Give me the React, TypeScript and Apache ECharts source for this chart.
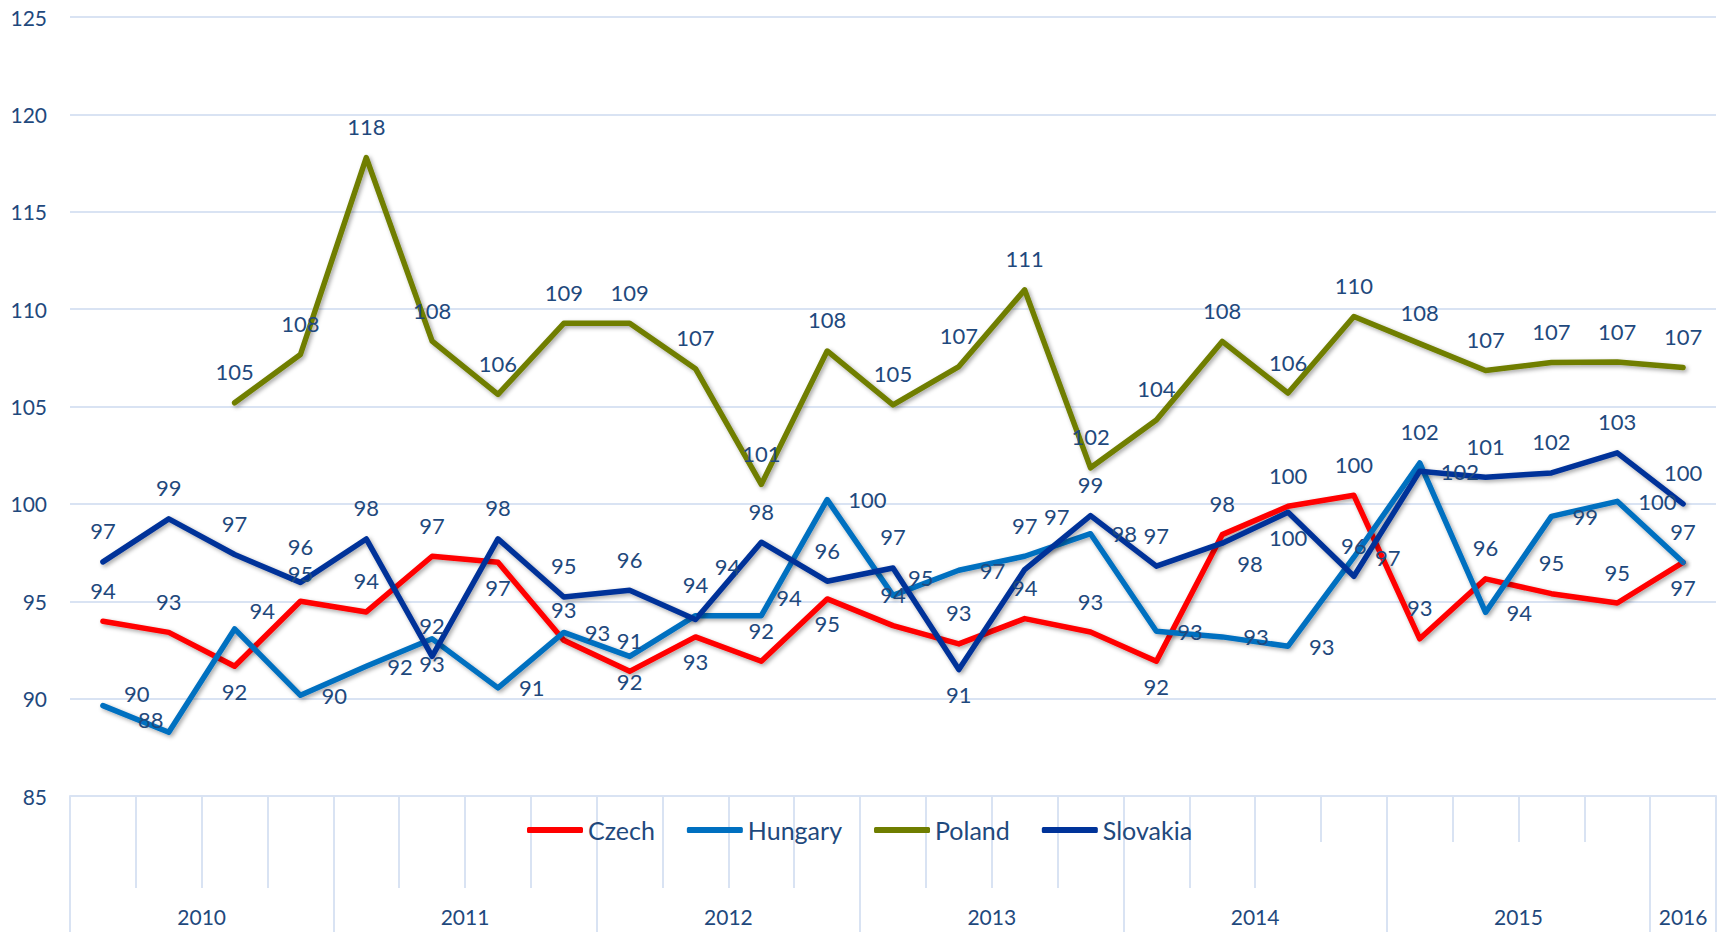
import React, { useEffect, useRef } from "react";
import * as echarts from "echarts";

// ---------- data ----------
const years = ["2010", "2011", "2012", "2013", "2014", "2015", "2016"];
const quartersPerYear = [4, 4, 4, 4, 4, 4, 1];
const seriesNames = ["Czech", "Hungary", "Poland", "Slovakia"];

const czech = [93.97, 93.4, 91.66, 95.0, 94.45, 97.31, 97.0, 93.0, 91.4, 93.17, 91.92, 95.12, 93.75, 92.81, 94.11, 93.42, 91.92, 98.42, 99.88, 100.44, 93.07, 96.15, 95.39, 94.91, 97.0];
const hungary = [89.64, 88.27, 93.58, 90.17, 91.66, 93.07, 90.55, 93.4, 92.17, 94.26, 94.26, 100.22, 95.3, 96.59, 97.31, 98.47, 93.46, 93.17, 92.69, 97.26, 102.1, 94.43, 99.36, 100.13, 97.0];
const poland = [null, null, 105.19, 107.67, 117.78, 108.36, 105.62, 109.27, 109.27, 106.94, 101.0, 107.85, 105.08, 107.05, 110.99, 101.85, 104.31, 108.34, 105.69, 109.62, 108.23, 106.85, 107.26, 107.28, 107.0];
const slovakia = [97.02, 99.23, 97.4, 95.97, 98.2, 92.17, 98.2, 95.22, 95.56, 94.06, 98.03, 96.03, 96.71, 91.49, 96.63, 99.4, 96.8, 97.98, 99.57, 96.28, 101.68, 101.37, 101.59, 102.62, 100.0];

const yMin = 85;
const yMax = 125;
const yInterval = 5;

// ---------- styles ----------
const TEXT = "#1f497d";
const GRID = "#d9e3f3";
const FONT = "Lato";
const colors = ["#ff0000", "#0070c0", "#6f7e00", "#003399"];

// label placement codes per point (style only)
const czechPos = "t t b tl t t b t t b t b t t t t b t t t t t t t b".split(" ");
const hungaryPos = "ru lt rt r r b r r b t rt r rt r t r r r r r t r r r t".split(" ");
const polandPos = "t t t t t t t t t t t t t t t t t t t t t t t t t".split(" ");
const slovakiaPos = "t t t tu t t t t t tr t t t b tr t t br b t r t t t t".split(" ");

const LABEL_STYLES: Record<string, any> = {
  t: { position: "top", distance: 19 },
  tu: { position: "top", distance: 24 },
  tl: { position: "top", distance: 16 },
  b: { position: "bottom", distance: 13 },
  r: { position: "right", distance: 20 },
  ru: { position: "right", distance: 20, offset: [0, -12] },
  rt: { position: "right", distance: 14, offset: [0, -18] },
  tr: { position: "top", distance: 19, offset: [32, -22] },
  br: { position: "right", distance: 14, offset: [0, 20] },
  lt: { position: "top", distance: 19, offset: [-18, 18] },
};

const SHORT_TICK_FROM = 19;

export default function App() {
  const ref = useRef<HTMLDivElement | null>(null);

  useEffect(() => {
    if (!ref.current) return;
    const chart = echarts.init(ref.current, undefined, { renderer: "svg" });

    const categories: string[] = [];
    const yearStarts: number[] = [];
    const yearCenters: number[] = [];
    let idx = 0;
    years.forEach((y, i) => {
      yearStarts.push(idx);
      yearCenters.push(idx + quartersPerYear[i] / 2);
      for (let q = 0; q < quartersPerYear[i]; q++) categories.push(`${y} Q${q + 1}`);
      idx += quartersPerYear[i];
    });
    const total = categories.length;
    const yearBoundaries = [...yearStarts, total];
    const quarterBoundaries: number[] = [];
    for (let k = 1; k < total; k++) if (!yearStarts.includes(k)) quarterBoundaries.push(k);
    const longTicks = quarterBoundaries.filter((k) => k < SHORT_TICK_FROM);
    const shortTicks = quarterBoundaries.filter((k) => k >= SHORT_TICK_FROM);

    const allData = [czech, hungary, poland, slovakia];
    const allPos = [czechPos, hungaryPos, polandPos, slovakiaPos];

    const series = seriesNames.map((name, s) => ({
      name,
      type: "line",
      xAxisIndex: 0,
      yAxisIndex: 0,
      data: allData[s].map((v, i) =>
        v == null ? "-" : { value: v, label: { ...LABEL_STYLES[allPos[s][i]] } }
      ),
      symbol: "circle",
      symbolSize: 2,
      showSymbol: true,
      itemStyle: { color: colors[s] },
      lineStyle: {
        width: 5.5,
        color: colors[s],
        cap: "round",
        join: "round",
        shadowColor: "rgba(0,0,0,0.35)",
        shadowBlur: 4,
        shadowOffsetX: 2,
        shadowOffsetY: 2,
      },
      label: {
        show: true,
        formatter: (p: any) => String(Math.round(Number(p.value))),
        color: TEXT,
        fontSize: 22,
        fontFamily: FONT,
      },
      emphasis: { disabled: true },
    }));

    const tickAxis = (values: number[], length: number) => ({
      type: "value",
      gridIndex: 0,
      position: "bottom",
      min: 0,
      max: total,
      axisLine: { show: false },
      splitLine: { show: false },
      axisLabel: { show: false },
      axisTick: {
        show: true,
        customValues: values,
        length,
        lineStyle: { color: GRID, width: 2 },
      },
    });

    chart.setOption({
      animation: false,
      backgroundColor: "#ffffff",
      textStyle: { fontFamily: FONT },
      grid: { left: 70, right: 3, top: 17, bottom: 136, containLabel: false },
      legend: {
        data: seriesNames,
        left: 527,
        top: 815,
        padding: 0,
        icon: "roundRect",
        itemWidth: 56,
        itemHeight: 6,
        itemGap: 32,
        textStyle: { color: TEXT, fontSize: 25, fontFamily: FONT, lineHeight: 30 },
      },
      xAxis: [
        {
          type: "category",
          data: categories,
          boundaryGap: true,
          axisLine: { show: true, lineStyle: { color: GRID, width: 2 } },
          axisTick: { show: false },
          axisLabel: { show: false },
          splitLine: { show: false },
        },
        tickAxis(longTicks, 92),
        tickAxis(shortTicks, 46),
        {
          type: "value",
          gridIndex: 0,
          position: "bottom",
          min: 0,
          max: total,
          axisLine: { show: false },
          splitLine: { show: false },
          axisTick: {
            show: true,
            customValues: yearBoundaries,
            length: 136,
            lineStyle: { color: GRID, width: 2 },
          },
          axisLabel: {
            show: true,
            customValues: yearCenters,
            margin: 110,
            color: TEXT,
            fontSize: 21,
            fontFamily: FONT,
            formatter: (v: number) => {
              const i = yearCenters.findIndex((c) => Math.abs(c - v) < 1e-6);
              return i >= 0 ? years[i] : "";
            },
          },
        },
      ],
      yAxis: {
        type: "value",
        min: yMin,
        max: yMax,
        interval: yInterval,
        axisLine: { show: false },
        axisTick: { show: false },
        splitLine: { show: true, lineStyle: { color: GRID, width: 2 } },
        axisLabel: { color: TEXT, fontSize: 21, fontFamily: FONT, margin: 23 },
      },
      series,
    });

    return () => chart.dispose();
  }, []);

  return (
    <div
      ref={ref}
      style={{ position: "fixed", left: 0, top: 0, width: "1719px", height: "932px", background: "#fff" }}
    />
  );
}
